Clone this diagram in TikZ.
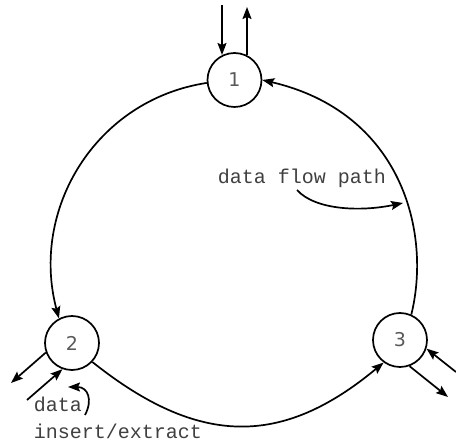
\documentclass[tikz,border=0pt]{standalone}
\usepackage{fontspec}
\setmonofont{Liberation Mono}
\newfontfamily\digitfont{DejaVu Sans}
\usetikzlibrary{arrows.meta}
\begin{document}
\begin{tikzpicture}[x=1pt,y=-1pt,
  line width=1.7pt,
  station/.style={circle,draw,minimum size=54pt,inner sep=0pt,
    font=\digitfont\fontsize{19}{19}\selectfont,text=black!65},
  arr/.style={-{Stealth[length=12pt,width=9pt,inset=2pt]}},
  lbl/.style={font=\ttfamily\fontsize{20}{20}\selectfont,text=black!75,
    inner sep=0pt,anchor=base west}]
\useasboundingbox (0,0) rectangle (456,443);

% stations on the ring
\node[station] (n1) at (234.5,80) {1};
\node[station] (n2) at (72,343) {2};
\node[station] (n3) at (400,340) {3};

% ring segments
\draw[arr] (n1.186) .. controls (95,100) and (30,210) .. (n2.118);
\draw[arr] (n2.-43) .. controls (199,447) and (282,447) .. (n3.234);
\draw[arr] (n3.66) .. controls (432,230) and (400,112) .. (n1.east);

% feeds at station 1
\coordinate (in1) at (222,5);
\coordinate (out1) at (247,7);
\draw[arr] (in1) -- (in1 |- n1.116);
\draw[arr] (out1 |- n1.62) -- (out1);

% feeds at station 2
\coordinate (out2) at (11,383);
\coordinate (in2) at (27,400);
\draw[arr] (n2.200) -- (out2);
\draw[arr] (in2) -- (n2.250);

% feeds at station 3
\coordinate (in3) at (456,372);
\coordinate (out3) at (448,397);
\draw[arr] (in3) -- (n3.-18);
\draw[arr] (n3.-70) -- (out3);

% labels
\node[lbl] (flow) at (217,184) {data flow path};
\node[lbl] (data) at (33,412) {data};
\node[lbl] (ins) at (33,439) {insert/extract};

% pointers from the labels
\coordinate (fs) at (297,190);
\coordinate (fe) at (403,203);
\draw[arr] (fs) .. controls (315,210) and (360,212) .. (fe);
\coordinate (ds) at (85,415);
\coordinate (de) at (68,387);
\draw[arr] (ds) .. controls (93,400) and (88,387) .. (de);
\end{tikzpicture}
\end{document}
